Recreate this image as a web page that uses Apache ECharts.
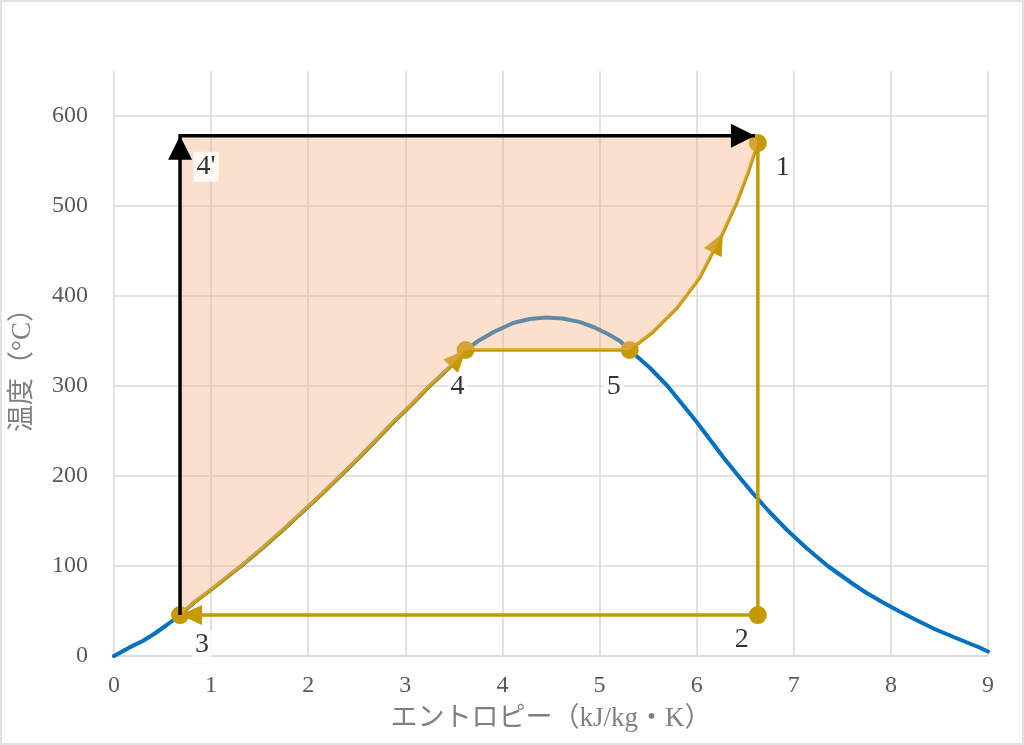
<!DOCTYPE html>
<html><head><meta charset="utf-8">
<script src="https://cdn.jsdelivr.net/npm/echarts@6/dist/echarts.min.js"></script>
<style>html,body{margin:0;padding:0;background:#fff}#c{width:1024px;height:745px}</style>
</head><body><div id="c"></div>
<script>
// ---- data (entropy s [kJ/kg·K], temperature T [°C]) ----
// saturation dome (liquid side -> critical -> vapour side)
const satS = [0, 0.15, 0.30, 0.42, 0.55, 0.68, 0.83, 0.955, 1.075, 1.19, 1.31, 1.53, 1.74, 1.94, 2.14, 2.33, 2.52, 2.70, 2.88, 3.07, 3.25, 3.45, 3.62, 3.75, 3.91, 4.11, 4.28, 4.45,
              4.62, 4.80, 4.95, 5.10, 5.21, 5.31, 5.52, 5.70, 5.85, 6.00, 6.14, 6.28, 6.43, 6.585, 6.75, 6.93, 7.13, 7.35, 7.48, 7.61, 7.75, 7.91, 8.08, 8.26, 8.45, 8.67, 8.90, 9.0];
const satT = [0, 9, 17, 25, 35, 45.5, 60, 70, 80, 90, 100, 120, 140, 160, 180, 200, 220, 240, 260, 280, 300, 320, 340, 350, 360, 370, 374.5, 376,
              375, 371, 365, 357, 350, 340, 320, 300, 280, 260, 240, 220, 200, 180, 160, 140, 120, 100, 90, 80, 70, 60, 50, 40, 30, 20, 10, 5];
// cycle state points
const pointNames = ['1', '2', '3', '4', '5'];
const pointS = [6.63, 6.63, 0.68, 3.62, 5.31];
const pointT = [570, 45.5, 45.5, 340, 340];
// 3 -> 4 heating along saturated liquid line
const heatS = [0.68, 0.83, 0.955, 1.075, 1.19, 1.31, 1.53, 1.74, 1.94, 2.14, 2.33, 2.52, 2.70, 2.88, 3.07, 3.25, 3.45, 3.62];
const heatT = [45.5, 60, 70, 80, 90, 100, 120, 140, 160, 180, 200, 220, 240, 260, 280, 300, 320, 340];
// 5 -> 1 superheating
const superS = [5.31, 5.55, 5.80, 6.03, 6.27, 6.41, 6.53, 6.63];
const superT = [340, 360, 387, 420, 470, 503, 537, 570];
const superArrowIdx = 4;
// 3 -> 4' -> top (reference path)
const blackS = [0.68, 0.68, 6.60];
const blackT = [45.5, 578, 578];
const primeName = "4'";
// axes
const xTickMin = 0, xTickMax = 9, xTickStep = 1;
const yTickMin = 0, yTickMax = 650, yTickStep = 50, yLabelStep = 100;

// ---- build ----
const zip = (a, b) => a.map((v, i) => [v, b[i]]);
const P = i => [pointS[i], pointT[i]];
const satData = zip(satS, satT);
const heatPts = zip(heatS, heatT);
const superPts = zip(superS, superT);
const goldPath = heatPts.concat([P(4)], superPts, [P(1)], [P(2)]);
const blackPts = zip(blackS, blackT);

// filled region: 3 -> 4' -> top -> 1 -> (superheat back) -> 5 -> 4 -> (liquid back) -> 3
const fillPts = blackPts.concat([P(0)], superPts.slice().reverse(), heatPts.slice().reverse());

const GOLD = '#C49A00', BLUE = '#0070C0', FONT = "'Liberation Serif', 'Noto Sans CJK JP', serif";

function arrowSeries(items, color, L, W, z) {
  return {
    type: 'custom', z: z, silent: true,
    encode: { x: [0, 2], y: [1, 3] },
    data: items.map(it => [it[0][0], it[0][1], it[1][0], it[1][1]]),
    renderItem: (params, api) => {
      const p1 = api.coord([api.value(0), api.value(1)]);
      const p2 = api.coord([api.value(2), api.value(3)]);
      const dx = p2[0] - p1[0], dy = p2[1] - p1[1];
      const len = Math.hypot(dx, dy) || 1;
      const ux = dx / len, uy = dy / len;
      const bx = p2[0] - ux * L, by = p2[1] - uy * L;
      return {
        type: 'polygon',
        shape: { points: [[p2[0], p2[1]], [bx - uy * W / 2, by + ux * W / 2], [bx + uy * W / 2, by - ux * W / 2]] },
        style: { fill: color }
      };
    }
  };
}

const labelOffsets = { '1': [25, 25], '2': [-16, 25], '3': [22, 30], '4': [-8, 37], '5': [-16, 37], "4'": [26, 31] };
const labelItems = pointNames.map((n, i) => ({ name: n, value: P(i) }))
  .concat([{ name: primeName, value: blackPts[1] }])
  .map(d => Object.assign(d, { label: { offset: labelOffsets[d.name] } }));

const option = {
  animation: false,
  backgroundColor: '#fff',
  grid: { left: 114, right: 36, top: 71, bottom: 89 },
  xAxis: {
    type: 'value', min: xTickMin, max: xTickMax, interval: xTickStep,
    axisLine: { show: true, lineStyle: { color: '#d9d9d9', width: 1.5 } },
    axisTick: { show: false },
    splitLine: { show: true, lineStyle: { color: '#d9d9d9', width: 1.5 } },
    axisLabel: { color: '#595959', fontSize: 24, fontFamily: FONT, margin: 18 },
    name: 'エントロピー（kJ/kg・K）', nameLocation: 'middle', nameGap: 49,
    nameTextStyle: { color: '#7f7f7f', fontSize: 27, fontFamily: FONT }
  },
  yAxis: {
    type: 'value', min: yTickMin, max: yTickMax, interval: yTickStep,
    axisLine: { show: false }, axisTick: { show: false },
    splitLine: { show: true, lineStyle: { color: ['#d9d9d9', 'rgba(0,0,0,0)'], width: 1.5 } },
    axisLabel: { color: '#595959', fontSize: 24, fontFamily: FONT, margin: 26,
      formatter: v => (v % yLabelStep === 0 ? String(v) : '') },
    name: '温度（°C）', nameLocation: 'middle', nameGap: 78,
    nameTextStyle: { color: '#7f7f7f', fontSize: 27, fontFamily: FONT }
  },
  graphic: [{ type: 'rect', silent: true, shape: { x: 1, y: 1, width: 1022, height: 743 },
    style: { fill: 'none', stroke: '#d9d9d9', lineWidth: 1.5 } }],
  series: [
    { type: 'line', z: 2, data: satData, showSymbol: false, symbol: 'none', silent: true,
      lineStyle: { color: BLUE, width: 4, join: 'round', cap: 'round' } },
    { type: 'line', z: 3, data: goldPath, showSymbol: false, symbol: 'none', silent: true,
      lineStyle: { color: GOLD, width: 3.5, join: 'round' } },
    arrowSeries([
      [heatPts[heatPts.length - 2], heatPts[heatPts.length - 1]],
      [superPts[superArrowIdx - 1], superPts[superArrowIdx]],
      [P(1), P(2)]
    ], GOLD, 22, 20, 3),
    { type: 'scatter', z: 3, silent: true, symbolSize: 18, itemStyle: { color: GOLD, opacity: 1 },
      data: pointNames.map((n, i) => P(i)) },
    { type: 'custom', z: 4, silent: true, data: [fillPts[0]],
      renderItem: (params, api) => ({
        type: 'polygon',
        shape: { points: fillPts.map(p => api.coord(p)) },
        style: { fill: 'rgba(244,177,131,0.4)' }
      }) },
    { type: 'line', z: 5, data: blackPts, showSymbol: false, symbol: 'none', silent: true,
      lineStyle: { color: '#000', width: 3.5, join: 'miter' } },
    arrowSeries([[blackPts[0], blackPts[1]], [blackPts[1], blackPts[2]]], '#000', 24, 24, 5),
    { type: 'scatter', z: 6, silent: true, symbolSize: 1, itemStyle: { color: 'rgba(0,0,0,0)' },
      data: labelItems,
      label: { show: true, position: 'inside', formatter: p => p.name, color: '#000',
        fontSize: 28, fontFamily: FONT, backgroundColor: '#fff', padding: [1, 3] } }
  ]
};
echarts.init(document.getElementById('c'), null, { renderer: 'canvas' }).setOption(option);
</script>
</body></html>
